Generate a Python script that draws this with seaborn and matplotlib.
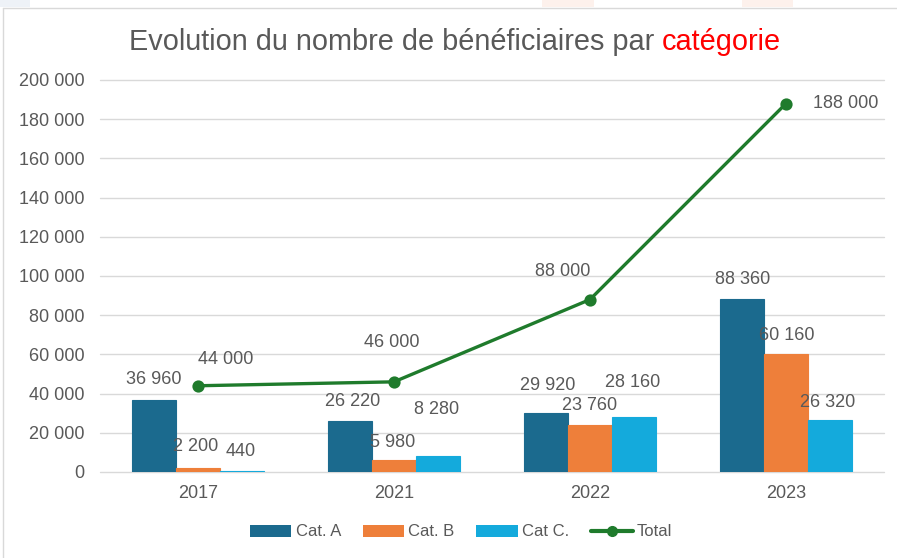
import matplotlib
matplotlib.use("Agg")
import matplotlib.pyplot as plt
from matplotlib.patches import Patch, Rectangle
from matplotlib.lines import Line2D
import seaborn as sns
import pandas as pd

# ---- data ----
years = ["2017", "2021", "2022", "2023"]
cat_a = [36960, 26220, 29920, 88360]
cat_b = [2200, 5980, 23760, 60160]
cat_c = [440, 8280, 28160, 26320]
total = [44000, 46000, 88000, 188000]
series_names = ["Cat. A", "Cat. B", "Cat C."]
total_name = "Total"
y_ticks = [0, 20000, 40000, 60000, 80000, 100000, 120000, 140000, 160000, 180000, 200000]

# ---- styles ----
colors = ["#1b6a8e", "#ee7f3a", "#14aadc"]
green = "#1f7b2c"
grey_text = "#595959"
grid_col = "#d9d9d9"

def fmt(v):
    return f"{v:,}".replace(",", " ")

sns.set_theme(style="white")
plt.rcParams["font.family"] = ["Liberation Sans", "DejaVu Sans"]

df = pd.DataFrame({
    "year": years * 3,
    "value": cat_a + cat_b + cat_c,
    "cat": [series_names[0]] * 4 + [series_names[1]] * 4 + [series_names[2]] * 4,
})

fig = plt.figure(figsize=(8.97, 5.58), dpi=100)
fig.patch.set_facecolor("white")
ax = fig.add_axes([100 / 897, 86 / 558, 784 / 897, 392 / 558])

sns.barplot(data=df, x="year", y="value", hue="cat", palette=colors,
            width=0.67, saturation=1, ax=ax, legend=False, zorder=2)
for k, cont in enumerate(ax.containers[:3]):
    for p in cont.patches:
        p.set_edgecolor(colors[k])
        p.set_linewidth(0.8)
sns.pointplot(x=years, y=total, color=green, markers="o", errorbar=None,
              markersize=7, linewidth=2.4, ax=ax)
for coll in ax.collections:
    coll.set_zorder(4)
for ln in ax.lines:
    ln.set_zorder(4)

ax.set_xlim(-0.5, 3.5)
ax.set_ylim(0, 200000)
ax.set_yticks(y_ticks)
ax.set_yticklabels([fmt(v) for v in y_ticks])
ax.set_xlabel("")
ax.set_ylabel("")
ax.yaxis.grid(True, color=grid_col, linewidth=1, zorder=0)
for gl in ax.get_ygridlines():
    gl.set_clip_on(False)
ax.set_axisbelow(True)
for s in ax.spines.values():
    s.set_visible(False)
ax.tick_params(axis="both", length=0, labelsize=13, colors=grey_text)
ax.tick_params(axis="y", pad=11)
ax.tick_params(axis="x", pad=9)

# ---- data labels (offsets in px) ----
bar_offsets = [
    [(0, -20), (2, -19), (1, -28), (0, -19)],
    [(-2, -21), (-1, -18), (0, -20), (1, -19)],
    [(-1, -20), (-1, -46), (-1, -34), (-2, -18)],
]
series_vals = [cat_a, cat_b, cat_c]
for k, cont in enumerate(ax.containers[:3]):
    for j, p in enumerate(cont.patches):
        dx, dy = bar_offsets[k][j]
        ax.annotate(fmt(series_vals[k][j]),
                    (p.get_x() + p.get_width() / 2, p.get_height()),
                    xytext=(dx * 0.72, -dy * 0.72), textcoords="offset points",
                    ha="center", va="center", fontsize=13, color=grey_text, zorder=5)

total_offsets = [(28, -26), (-2, -39), (-27, -28), (60, 0)]
for j, v in enumerate(total):
    dx, dy = total_offsets[j]
    ax.annotate(fmt(v), (j, v), xytext=(dx * 0.72, -dy * 0.72),
                textcoords="offset points", ha="center", va="center",
                fontsize=13, color=grey_text, zorder=5)

# ---- legend ----
handles = [Patch(facecolor=c, edgecolor="none") for c in colors]
handles.append(Line2D([0], [0], color=green, lw=3, marker="o", markersize=7))
fig.legend(handles, series_names + [total_name], loc="center",
           bbox_to_anchor=(461 / 897, 1 - 532 / 558), ncol=4, frameon=False,
           fontsize=12, labelcolor=grey_text, handlelength=2.5,
           handletextpad=0.25, columnspacing=1.3)

# ---- title (two colours) ----
title_main = "Evolution du nombre de bénéficiaires par "
title_red = "catégorie"
ty = 1 - 42 / 558
t1 = fig.text(0, ty, title_main, fontsize=20.8, color=grey_text, va="center", ha="left")
t2 = fig.text(0, ty, title_red, fontsize=20.8, color="#ff0000", va="center", ha="left")
fig.canvas.draw()
r = fig.canvas.get_renderer()
w1 = t1.get_window_extent(r).width
w2 = t2.get_window_extent(r).width
W = fig.bbox.width
x0 = (455 - (w1 + w2) / 2)
t1.set_x(x0 / W)
t2.set_x((x0 + w1) / W)

# ---- frame artefacts ----
fig.add_artist(Line2D([3 / 897, 3 / 897], [0, 1 - 8 / 558], transform=fig.transFigure, color="#d9d9d9", lw=1))
fig.add_artist(Line2D([3 / 897, 1], [1 - 8 / 558, 1 - 8 / 558], transform=fig.transFigure, color="#d9d9d9", lw=1))
for (xa, xb, col) in [(0, 30, "#eef2f7"), (542, 594, "#fdf1ec"), (742, 793, "#fdf1ec")]:
    fig.add_artist(Rectangle((xa / 897, 1 - 7 / 558), (xb - xa) / 897, 7 / 558,
                             transform=fig.transFigure, color=col, lw=0))

fig.savefig("out.png", dpi=100)
